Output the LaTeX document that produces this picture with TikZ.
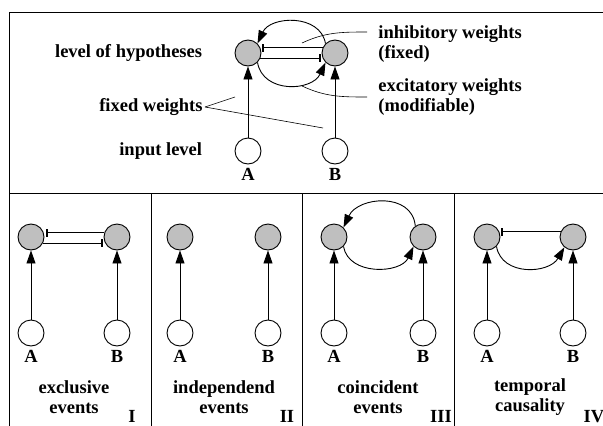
\documentclass[tikz,border=0pt]{standalone}
\usepackage{fontspec}
\setmainfont{Liberation Serif}
\usetikzlibrary{arrows.meta}
\usetikzlibrary{positioning}

\tikzset{
  hypnode/.style={circle, draw, fill=black!25, minimum size=26pt, inner sep=0pt},
  inpnode/.style={circle, draw, fill=white, minimum size=26pt, inner sep=0pt},
  txt/.style={font=\fontsize{18.5}{20}\selectfont\bfseries, inner sep=0pt},
  excite/.style={-{Triangle[length=13pt,width=9pt]}},
  inhibit/.style={-{Bar[width=8pt,line width=1.8pt]}, shorten >=2pt},
  leader/.style={line width=0.6pt}
}

\begin{document}
\begin{tikzpicture}[x=1pt, y=1pt, line width=0.9pt]
        \newcommand{\figtophypy}{-53}
        \newcommand{\figtopinpy}{-151}
        \newcommand{\figpanelhypy}{-237}
        \newcommand{\figpanelinpy}{-333}
        \newcommand{\figpaneltexty}{-397}
        \newcommand{\figpanelnumy}{-422.5}
        \useasboundingbox (0,0) rectangle (603,-426);
        % frame and panel dividers
        \draw (9,-426) -- (9,-12.5) -- (603,-12.5);
        \draw (9,-193) -- (603,-193);
        \draw (151,-193) -- (151,-426);
        \draw (302,-193) -- (302,-426);
        \draw (454,-193) -- (454,-426);
        % top panel
        \node[hypnode] (hypA) at (248,\figtophypy) {};
        \node[hypnode] (hypB) at (335,\figtophypy) {};
        \node[inpnode] (inA) at (248,\figtopinpy) {};
        \node[inpnode] (inB) at (335,\figtopinpy) {};
        \node[txt, below=3pt of inA] (labA) {A};
        \node[txt, below=3pt of inB] (labB) {B};
        \draw[excite] (inA) -- (hypA);
        \draw[excite] (inB) -- (hypB);
        \draw[inhibit] (hypB.157) -- (hypA.23);
        \draw[inhibit] (hypA.-23) -- (hypB.-157);
        \draw[excite] (hypB.135) to[out=100,in=65,looseness=1.15] (hypA.45);
        \draw[excite] (hypA.-45) to[out=-80,in=-115,looseness=1.2] (hypB.-135);
        \node[txt, left=32pt of hypA] (lvlhyp) {level of hypotheses};
        \node[txt, left=32pt of inA] (lvlinp) {input level};
        \node[txt, anchor=east] (fixw) at (203,-107) {fixed weights};
        \coordinate (fixwA) at (235,-97);
        \coordinate (fixwB) at (323,-128);
        \draw[leader] ([xshift=2pt]fixw.east) -- (fixwA);
        \draw[leader] ([xshift=2pt]fixw.east) -- (fixwB);
        \node[txt, anchor=west, align=left] (inhw) at (378,-44) {inhibitory weights\\(fixed)};
        \node[txt, anchor=west, align=left] (excw) at (378,-97) {excitatory weights\\(modifiable)};
        \coordinate (inhwend) at (302,-43);
        \coordinate (excwend) at (302,-86);
        \draw[leader] (inhwend) to[out=25,in=180] ([xshift=-11pt,yshift=12pt]inhw.west);
        \draw[leader] (excwend) to[out=-25,in=180] ([xshift=-11pt]excw.west);
        % panel I: exclusive events
        \node[hypnode] (hypAi) at (31,\figpanelhypy) {};
        \node[hypnode] (hypBi) at (117,\figpanelhypy) {};
        \node[inpnode] (inAi) at (31,\figpanelinpy) {};
        \node[inpnode] (inBi) at (117,\figpanelinpy) {};
        \node[txt, below=3pt of inAi] (labAi) {A};
        \node[txt, below=3pt of inBi] (labBi) {B};
        \draw[excite] (inAi) -- (hypAi);
        \draw[excite] (inBi) -- (hypBi);
        \draw[inhibit] (hypBi.162) -- (hypAi.18);
        \draw[inhibit] (hypAi.-28) -- (hypBi.-152);
        \node[txt, align=center] (capi) at (74,\figpaneltexty) {exclusive\\events};
        \node[txt, anchor=base] (numi) at (132,\figpanelnumy) {I};
        % panel II: independend events
        \node[hypnode] (hypAii) at (180,\figpanelhypy) {};
        \node[hypnode] (hypBii) at (268,\figpanelhypy) {};
        \node[inpnode] (inAii) at (180,\figpanelinpy) {};
        \node[inpnode] (inBii) at (268,\figpanelinpy) {};
        \node[txt, below=3pt of inAii] (labAii) {A};
        \node[txt, below=3pt of inBii] (labBii) {B};
        \draw[excite] (inAii) -- (hypAii);
        \draw[excite] (inBii) -- (hypBii);
        \node[txt, align=center] (capii) at (224,\figpaneltexty) {independend\\events};
        \node[txt, anchor=base] (numii) at (287,\figpanelnumy) {II};
        % panel III: coincident events
        \node[hypnode] (hypAiii) at (334,\figpanelhypy) {};
        \node[hypnode] (hypBiii) at (423,\figpanelhypy) {};
        \node[inpnode] (inAiii) at (334,\figpanelinpy) {};
        \node[inpnode] (inBiii) at (423,\figpanelinpy) {};
        \node[txt, below=3pt of inAiii] (labAiii) {A};
        \node[txt, below=3pt of inBiii] (labBiii) {B};
        \draw[excite] (inAiii) -- (hypAiii);
        \draw[excite] (inBiii) -- (hypBiii);
        \draw[excite] (hypBiii.125) to[out=95,in=65,looseness=1.22] (hypAiii.45);
        \draw[excite] (hypAiii.-45) to[out=-80,in=-115,looseness=1.1] (hypBiii.-135);
        \node[txt, align=center] (capiii) at (378,\figpaneltexty) {coincident\\events};
        \node[txt, anchor=base] (numiii) at (441,\figpanelnumy) {III};
        % panel IV: temporal causality
        \node[hypnode] (hypAiv) at (487,\figpanelhypy) {};
        \node[hypnode] (hypBiv) at (573,\figpanelhypy) {};
        \node[inpnode] (inAiv) at (487,\figpanelinpy) {};
        \node[inpnode] (inBiv) at (573,\figpanelinpy) {};
        \node[txt, below=3pt of inAiv] (labAiv) {A};
        \node[txt, below=3pt of inBiv] (labBiv) {B};
        \draw[excite] (inAiv) -- (hypAiv);
        \draw[excite] (inBiv) -- (hypBiv);
        \draw[inhibit] (hypBiv.157) -- (hypAiv.23);
        \draw[excite] (hypAiv.-45) to[out=-80,in=-120,looseness=1.15] (hypBiv.-130);
        \node[txt, align=center] (capiv) at (530,\figpaneltexty) {temporal\\causality};
        \node[txt, anchor=base] (numiv) at (594,\figpanelnumy) {IV};
    \end{tikzpicture}
\end{document}
